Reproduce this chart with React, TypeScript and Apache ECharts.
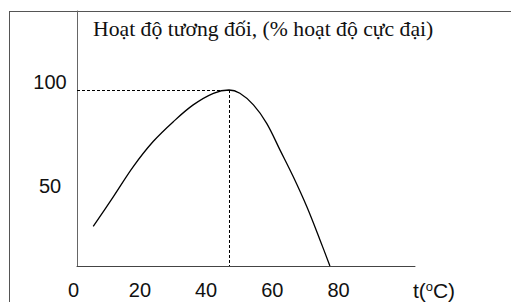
import React, { useEffect, useRef } from "react";
import * as echarts from "echarts";

const temperature = [5.9, 12.0, 18.0, 24.0, 30.1, 36.1, 42.2, 46.9, 50.2, 54.3, 58.3, 62.3, 66.3, 70.4, 74.4, 77.4];
const activity = [34.1, 48.5, 63.0, 75.1, 84.7, 92.8, 98.4, 100, 98.4, 92.8, 83.9, 71.1, 58.2, 43.7, 27.6, 15];
const xTicks = [1, 20, 40, 60, 80];
const yTicks = [50, 100];
const peakT = 46.9;
const peakA = 100;
const titleText = "Hoạt độ tương đối, (% hoạt độ cực đại)";
const xName = "t({sup|o}C)";

export default function App() {
  const ref = useRef<HTMLDivElement>(null);
  useEffect(() => {
    if (!ref.current) return;
    const chart = echarts.init(ref.current, null, { renderer: "svg" });
    chart.setOption({
      animation: false,
      backgroundColor: "#ffffff",
      title: {
        text: titleText,
        left: 93,
        top: 18,
        padding: 0,
        textStyle: {
          fontFamily: "Liberation Serif",
          fontSize: 21.7,
          fontWeight: "normal",
          color: "#111",
        },
      },
      graphic: [
        { type: "line", shape: { x1: 9.5, y1: 11.5, x2: 9.5, y2: 302 }, style: { stroke: "#555", lineWidth: 1 } },
        { type: "line", shape: { x1: 9, y1: 11.5, x2: 511, y2: 11.5 }, style: { stroke: "#555", lineWidth: 1 } },
      ],
      grid: { left: 77, right: 96, top: 11, bottom: 36 },
      xAxis: {
        type: "value",
        min: 1,
        max: 103.1,
        splitLine: { show: false },
        axisTick: { show: false },
        axisLine: { lineStyle: { color: "#444", width: 1 } },
        axisLabel: {
          customValues: xTicks,
          margin: 14,
          fontFamily: "Liberation Sans",
          fontSize: 20,
          color: "#111",
          formatter: (v: number) => (v === 1 ? "{z|0}" : String(v)),
          rich: { z: { fontFamily: "Liberation Sans", fontSize: 20, color: "#111", padding: [0, 7, 0, 0] } },
        },
        name: xName,
        nameLocation: "end",
        nameGap: 19,
        nameTextStyle: {
          fontFamily: "Liberation Sans",
          fontSize: 21,
          color: "#111",
          align: "center",
          verticalAlign: "top",
          padding: [14, 0, 0, 0],
          rich: { sup: { fontFamily: "Liberation Sans", fontSize: 13, color: "#111", verticalAlign: "top" } },
        },
      },
      yAxis: {
        type: "value",
        min: 15,
        max: 138.15,
        splitLine: { show: false },
        axisTick: { show: false },
        axisLine: { show: true, lineStyle: { color: "#666", width: 1 } },
        axisLabel: {
          customValues: yTicks,
          margin: 27,
          align: "center",
          verticalAlign: "middle",
          formatter: (v: number) => "{a|" + v + "}",
          rich: { a: { fontFamily: "Liberation Sans", fontSize: 20, color: "#111", padding: [0, 0, 16, 0] } },
        },
      },
      series: [
        {
          type: "line",
          data: temperature.map((t, i) => [t, activity[i]]),
          smooth: 0.35,
          showSymbol: false,
          clip: false,
          lineStyle: { color: "#000", width: 1.3 },
          markLine: {
            silent: true,
            symbol: "none",
            label: { show: false },
            lineStyle: { color: "#000", width: 1, type: [3, 2] },
            data: [
              [{ coord: [1, peakA] }, { coord: [peakT, peakA] }],
              [{ coord: [peakT, peakA] }, { coord: [peakT, 15] }],
            ],
          },
        },
      ],
    });
    return () => chart.dispose();
  }, []);
  return <div ref={ref} style={{ position: "fixed", left: 0, top: 0, width: 511, height: 302 }} />;
}
